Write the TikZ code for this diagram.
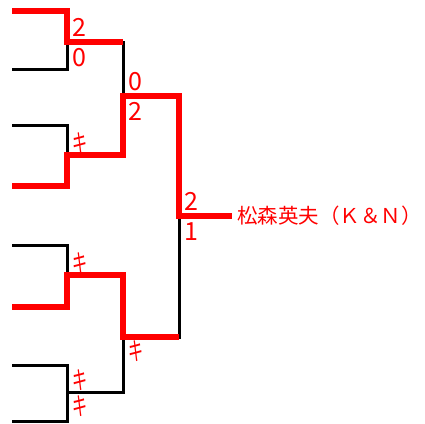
\documentclass[tikz,border=0pt]{standalone}
\usepackage{fontspec}
\usepackage{graphicx}
\setmainfont{Noto Sans CJK JP}

\newcommand{\kiken}{\scalebox{0.6}[1]{キ}}

\begin{document}
\begin{tikzpicture}[x=1pt, y=-1pt,
	loser/.style={black, line width=3pt},
	winner/.style={red, line width=5.5pt},
	score/.style={red, font=\fontsize{25}{25}\selectfont, inner sep=0pt},
	above score/.style={score, anchor=base west, xshift=5pt, yshift=6pt},
	below score/.style={score, anchor=north west, xshift=5pt, yshift=-6pt},
	above kiken/.style={score, anchor=base west, xshift=5pt, yshift=3pt},
	below kiken/.style={score, anchor=north west, xshift=5pt, yshift=-4pt},
]

	\useasboundingbox (0,0) rectangle (425,423);

	\def \xleaf{12};
	\def \xa{67};
	\def \xb{123};
	\def \xc{179};
	\def \xend{232};

	% 1回戦
	\coordinate (l1) at (\xleaf, 11);
	\coordinate (l2) at (\xleaf, 69);
	\coordinate (l3) at (\xleaf, 125);
	\coordinate (l4) at (\xleaf, 186);
	\coordinate (l5) at (\xleaf, 245);
	\coordinate (l6) at (\xleaf, 307);
	\coordinate (l7) at (\xleaf, 365);
	\coordinate (l8) at (\xleaf, 421);

	\coordinate (r1a) at (\xa, 42);
	\coordinate (r1b) at (\xa, 155);
	\coordinate (r1c) at (\xa, 275);
	\coordinate (r1d) at (\xa, 392);

	% 2回戦, 決勝
	\coordinate (r2a) at (\xb, 96);
	\coordinate (r2b) at (\xb, 337);
	\coordinate (fin) at (\xc, 216);
	\coordinate (win) at (\xend, 216);

	\foreach \p/\q in {l1/r1a, l2/r1a, l3/r1b, l4/r1b, l5/r1c, l6/r1c, l7/r1d, l8/r1d,
		r1a/r2a, r1b/r2a, r1c/r2b, r1d/r2b, r2a/fin, r2b/fin}
		\draw[loser] (\p) -| (\q);
	\draw[loser] (fin) -- (win);

	% 勝ち上がり
	\draw[winner] (l1) -| (r1a) -- (r1a -| r2a);
	\draw[winner] (l4) -| (r1b) -| (r2a) -| (fin) -- (win);
	\draw[winner] (l6) -| (r1c) -| (r2b) -- (r2b -| fin);

	\node[above score] (s1at) at (r1a) {2};
	\node[below score] (s1ab) at (r1a) {0};
	\node[above kiken] (s1bt) at (r1b) {\kiken};
	\node[above kiken] (s1ct) at (r1c) {\kiken};
	\node[above kiken] (s1dt) at (r1d) {\kiken};
	\node[below kiken] (s1db) at (r1d) {\kiken};

	\node[above score] (s2at) at (r2a) {0};
	\node[below score] (s2ab) at (r2a) {2};
	\node[below kiken] (s2bb) at (r2b) {\kiken};

	\node[above score] (sft) at (fin) {2};
	\node[below score] (sfb) at (fin) {1};

	\node[red, anchor=west, inner sep=0pt, xshift=5pt, font=\fontsize{20.5}{20.5}\selectfont] (champ) at (win) {松森英夫（Ｋ＆Ｎ）};

\end{tikzpicture}
\end{document}
